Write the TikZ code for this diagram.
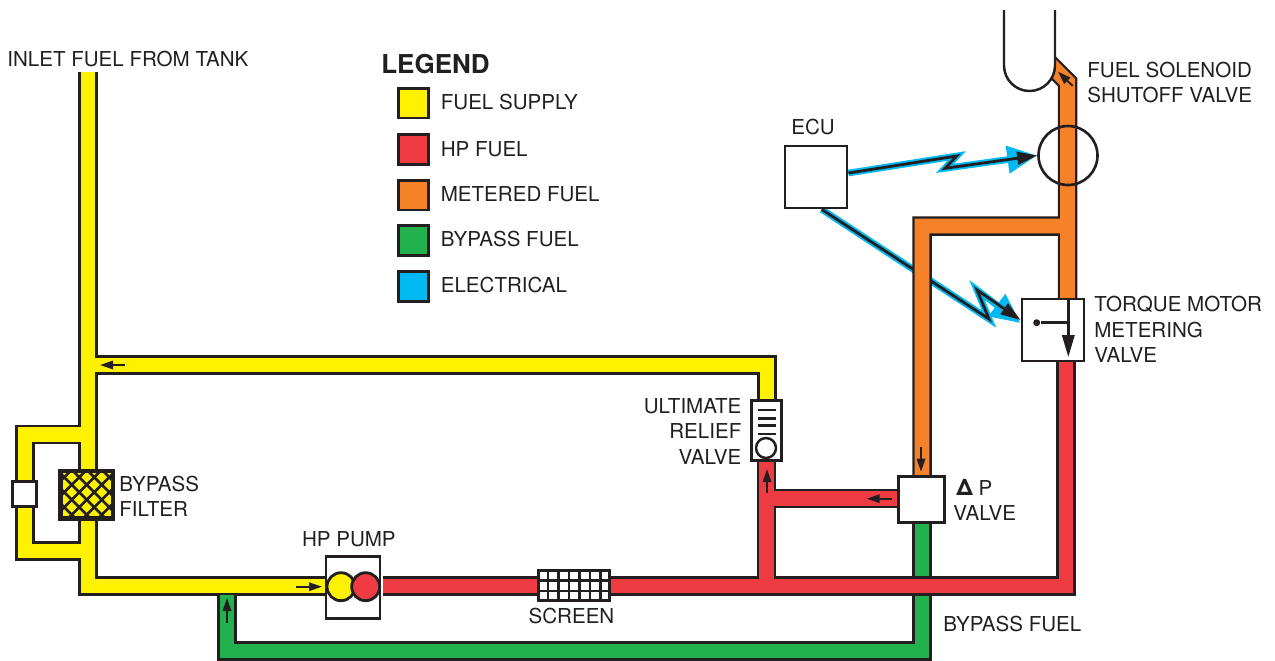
\documentclass[tikz,border=0pt]{standalone}
\usepackage{fontspec}
\setmainfont{TeX Gyre Heros}
\usetikzlibrary{arrows.meta,backgrounds}
\definecolor{ink}{HTML}{231F20}
\definecolor{fuelyellow}{HTML}{FFF200}
\definecolor{fuelred}{HTML}{EF3B42}
\definecolor{fuelorange}{HTML}{F58229}
\definecolor{fuelgreen}{HTML}{22B14C}
\definecolor{elecblue}{HTML}{00B9F2}
\newcommand{\fuelline}[2]{\draw[pipecase] #2; \draw[pipefill=#1] #2;}
\newcommand{\signal}[3]{%
  \draw[sigglow] #1 -- (#2); \draw[sigcore] #1 -- (#3);}
\tikzset{
  pipecase/.style={draw=ink,line width=11.1pt,line join=miter},
  pipefill/.style={draw=#1,line width=8.5pt,line join=miter},
  part/.style={draw=ink,fill=white,line width=1.6pt,inner sep=0pt,rectangle},
  swatch/.style={draw=ink,line width=1.7pt,inner sep=0pt,minimum size=0.6cm},
  lbl/.style={anchor=base west,inner sep=0pt,align=left,text=ink,xshift=-0.02cm,yshift=-0.014cm,font=\fontsize{11.7pt}{14.4pt}\selectfont},
  flow/.style={draw=ink,line width=1.1pt,-{Triangle[length=7.4pt,width=4.8pt]}},
  sigglow/.style={draw=elecblue,line width=3.8pt,-{Triangle[length=17pt,width=15pt]}},
  sigcore/.style={draw=ink,line width=1.6pt,-{Triangle[length=11.4pt,width=7.2pt]}},
  hatch/.style={draw=ink,line width=1.5pt},
  rotor/.style={circle,draw=ink,line width=1.6pt,inner sep=0pt,minimum size=0.56cm},
}
\begin{document}
\begin{tikzpicture}[x=0.02cm,y=-0.02cm]
  \useasboundingbox (0,0) rectangle (1275,660);
  % pipe bends and junctions
  \coordinate (inlet) at (88,72);
  \coordinate (mainbend) at (88,586);
  \coordinate (pumpin) at (330,586);
  \coordinate (returnjoin) at (88,365);
  \coordinate (returnbend) at (767,365);
  \coordinate (reliefin) at (767,405);
  \coordinate (loopa) at (88,434.5);
  \coordinate (loopb) at (25,434.5);
  \coordinate (loopc) at (25,551);
  \coordinate (loopd) at (88,551);
  \coordinate (pumpout) at (383,586);
  \coordinate (hpbend) at (1066,586);
  \coordinate (hpend) at (1066,355);
  \coordinate (hptee) at (766.5,586);
  \coordinate (hpup) at (766.5,455);
  \coordinate (hpjoin) at (766.5,498.5);
  \coordinate (dpin) at (905,498.5);
  \coordinate (dptop) at (922,480);
  \coordinate (meterbend) at (922,226);
  \coordinate (metertee) at (1067.5,226);
  \coordinate (meterlow) at (1067.5,305);
  \coordinate (meterslant) at (1067.5,82);
  \coordinate (metertip) at (1045,59.5);
  \coordinate (dplow) at (922,520);
  \coordinate (bypbend) at (922,651);
  \coordinate (bypleft) at (227,651);
  \coordinate (bypjoin) at (227,594.6);
  \coordinate (zagA) at (956.7,156);
  \coordinate (zagB) at (945,168.3);
  \coordinate (zagC) at (989,319);
  \coordinate (zagD) at (977,290);
  % parts
  \node[part,minimum size=1.24cm] (ecu) at (816,177) {};
  \node[circle,draw=ink,line width=1.5pt,inner sep=0pt,minimum size=1.18cm] (solenoid) at (1068,155.5) {};
  \node[part,minimum size=1.24cm] (tmvalve) at (1053,330) {};
  \node[part,minimum size=0.92cm] (dpvalve) at (921.7,499.7) {};
  \node[part,minimum width=0.6cm,minimum height=1.2cm] (relief) at (766.4,430.3) {};
  \node[part,minimum width=0.48cm,minimum height=0.5cm] (bypass) at (24.2,494.2) {};
  \node[part,minimum width=1.08cm,minimum height=1.24cm] (pump) at (353,587.8) {};
  % wires under the lines, lines under the parts
  \begin{scope}[on background layer]
    \signal{(ecu.7) -- (zagA) -- (zagB)}{solenoid.west}{solenoid.west}
    \signal{(ecu.280) -- (zagC) -- (zagD)}{tmvalve.168}{tmvalve.163}
    \fuelline{fuelyellow}{(inlet) -- (mainbend) -- (pumpin) (returnjoin) -- (returnbend) -- (reliefin) (loopa) -- (loopb) -- (loopc) -- (loopd)}
    \fuelline{fuelgreen}{(dplow) -- (bypbend) -- (bypleft) -- (bypjoin)}
    \fuelline{fuelred}{(pumpout) -- (hpbend) -- (hpend) (hptee) -- (hpup) (hpjoin) -- (dpin)}
    \fuelline{fuelorange}{(dptop) -- (meterbend) -- (metertee) (meterlow) -- (meterslant) -- (metertip)}
  \end{scope}
  % shutoff tube
  \draw[draw=ink,fill=white,line width=1.4pt] (1004,10) -- (1004,65.5) arc[start angle=180,end angle=0,radius=25.5] -- (1055,10);
  % relief valve inside
  \foreach \ry in {410,418.3,425.7,434}
    \draw[ink,line width=1.4pt] (758,\ry) -- (775.7,\ry);
  \node[circle,draw=ink,fill=white,line width=1.4pt,inner sep=0pt,minimum size=0.4cm] (reliefball) at (766,448) {};
  % pump rotors
  \node[rotor,fill=fuelyellow] (rotorA) at (341,586.7) {};
  \node[rotor,fill=fuelred] (rotorB) at (365.7,586.7) {};
  % metering valve inside
  \coordinate (stemtop) at (1068.3,298);
  \coordinate (stemend) at (1068.3,357);
  \node[circle,fill=ink,inner sep=0pt,minimum size=0.14cm] (tmdot) at (1036.7,322.7) {};
  \draw[ink,line width=1.4pt,-{Triangle[length=12.5pt,width=7pt]}] (stemtop) -- (stemend);
  \draw[ink,line width=1.4pt] (tmdot) -- (tmdot -| stemtop);
  % filter cross hatching
  \node[part,fill=fuelyellow,minimum width=1.02cm,minimum height=0.92cm] (filter) at (86.7,494.7) {};
  \begin{scope}
    \clip (filter.south west) rectangle (filter.north east);
    \foreach \k in {-3,...,4}
      \draw[hatch] (60,{511.5+15*\k}) -- (114,{457.5+15*\k});
    \foreach \k in {-2,...,5}
      \draw[hatch] (60,{443.1+15*\k}) -- (114,{497.1+15*\k});
  \end{scope}
  \draw[ink,line width=1.7pt] (filter.south west) rectangle (filter.north east);
  % screen grid
  \node[part,minimum width=1.42cm,minimum height=0.6cm] (screen) at (574,585.8) {};
  \foreach \i in {1,...,6}
    \draw[ink,line width=1.4pt] ({537.3+10.5*\i},570) -- ({537.3+10.5*\i},601.7);
  \foreach \j in {1,2}
    \draw[ink,line width=1.4pt] (537.3,{570+10.5*\j}) -- (610.7,{570+10.5*\j});
  % flow arrows
  \draw[flow] (125,365) -- (100,365);
  \draw[flow] (296,586.7) -- (322,586.7);
  \draw[flow] (227,623) -- (227,598);
  \draw[flow] (767,493) -- (767,469);
  \draw[flow] (891.7,498.7) -- (866.7,498.7);
  \draw[flow] (921,446.7) -- (921,471.7);
  \draw[flow] (1072.7,86) -- (1058,71.7);
  % legend
  \node[lbl,font=\fontsize{14.8pt}{16pt}\selectfont\bfseries] (legendhead) at (382,73) {LEGEND};
  \node[swatch,fill=fuelyellow] (keysupply) at (413.4,103) {};
  \node[swatch,fill=fuelred] (keyhp) at (413.4,149.7) {};
  \node[swatch,fill=fuelorange] (keymetered) at (413.4,195) {};
  \node[swatch,fill=fuelgreen] (keybypass) at (413.4,240.4) {};
  \node[swatch,fill=elecblue] (keyelec) at (413.4,286.3) {};
  \node[lbl] (txtsupply) at (441.5,108.3) {FUEL SUPPLY};
  \node[lbl] (txthp) at (441.5,155.7) {HP FUEL};
  \node[lbl] (txtmetered) at (441.5,201) {METERED FUEL};
  \node[lbl] (txtbypass) at (441.5,245.7) {BYPASS FUEL};
  \node[lbl] (txtelec) at (441.5,291.7) {ELECTRICAL};
  % labels, the base of a block is its last line
  \node[lbl] (txtinlet) at (8,66) {INLET FUEL FROM TANK};
  \node[lbl] (txtecu) at (792,134) {ECU};
  \node[lbl] (txtsolenoid) at (1088,102) {FUEL SOLENOID\\SHUTOFF VALVE};
  \node[lbl] (txttorque) at (1095,361.7) {TORQUE MOTOR\\METERING\\VALVE};
  \node[lbl,align=right,anchor=base east] (txtrelief) at (742.7,463.3) {ULTIMATE\\RELIEF\\VALVE};
  \node[lbl] (txtdp) at (957,495) {{\bfseries\fontsize{13pt}{13pt}\selectfont Δ} P};
  \node[lbl] (txtdpvalve) at (954,520) {VALVE};
  \node[lbl] (txtfilter) at (120,515.7) {BYPASS\\FILTER};
  \node[lbl] (txtpump) at (302.7,545.7) {HP PUMP};
  \node[lbl] (txtscreen) at (529.3,622.7) {SCREEN};
  \node[lbl] (txtbypfuel) at (944,631) {BYPASS FUEL};
\end{tikzpicture}
\end{document}
